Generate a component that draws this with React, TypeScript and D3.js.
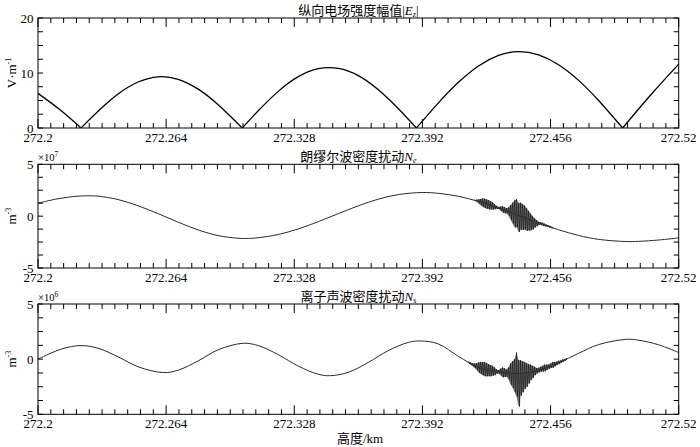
import React from 'react';
import * as d3 from 'd3';

// chart size and plot box (px)
const W = 700;
const H = 447;
const LEFT = 38;
const RIGHT = 678.7;

// height axis (km)
const xTicks = [272.2, 272.264, 272.328, 272.392, 272.456, 272.52];

// |Ez| (V/m)
const ezX = [272.2, 272.211, 272.2215, 272.23, 272.24, 272.25, 272.26, 272.27, 272.28, 272.29, 272.302,
  272.31, 272.32, 272.33, 272.34, 272.35, 272.36, 272.37, 272.38, 272.389,
  272.4, 272.41, 272.42, 272.43, 272.44, 272.45, 272.46, 272.47, 272.48, 272.492, 272.506, 272.52];
const ezV = [6.3, 3.3, 0, 3.04, 6.17, 8.36, 9.31, 8.85, 7.06, 4.22, 0,
  3.13, 6.66, 9.33, 10.78, 10.85, 9.53, 6.94, 3.5, 0,
  4.57, 8.3, 11.27, 13.19, 13.9, 13.3, 11.5, 8.66, 5.0, 0, 6.0, 11.6];

// Ne (x1e7 m^-3), smooth part
const neX = [272.2, 272.21, 272.22, 272.225, 272.23, 272.24, 272.25, 272.26, 272.27, 272.28, 272.29, 272.3, 272.305,
  272.31, 272.32, 272.33, 272.34, 272.35, 272.36, 272.37, 272.38, 272.392, 272.4, 272.41, 272.42, 272.43, 272.44,
  272.45, 272.46, 272.47, 272.48, 272.494, 272.5, 272.51, 272.52];
const neV = [1.25, 1.68, 1.93, 1.96, 1.93, 1.6, 1.0, 0.24, -0.58, -1.33, -1.88, -2.13, -2.15,
  -2.08, -1.77, -1.23, -0.53, 0.24, 1.0, 1.64, 2.08, 2.28, 2.2, 1.91, 1.42, 0.79, 0.07,
  -0.65, -1.31, -1.86, -2.24, -2.45, -2.43, -2.3, -2.1];

// Ne burst: [height, upper, lower]
const neBurst: [number, number, number][] = [
  [272.418, 1.58, 1.48], [272.419, 1.58, 1.38], [272.42, 1.62, 1.22], [272.421, 1.66, 1.06],
  [272.422, 1.7, 0.9], [272.423, 1.69, 0.79], [272.424, 1.62, 0.72], [272.425, 1.56, 0.66],
  [272.426, 1.45, 0.65], [272.427, 1.33, 0.63], [272.428, 1.17, 0.67], [272.429, 1.0, 0.7],
  [272.43, 0.89, 0.69], [272.431, 0.92, 0.52], [272.432, 0.95, 0.35], [272.433, 0.88, 0.28],
  [272.434, 0.76, 0.26], [272.435, 0.84, 0.04], [272.436, 1.06, -0.34], [272.437, 1.29, -0.71],
  [272.438, 1.52, -1.08], [272.439, 1.64, -1.06], [272.44, 1.27, -1.53], [272.441, 1.3, -1.3],
  [272.442, 1.18, -1.32], [272.443, 1.01, -1.29], [272.444, 0.79, -1.41], [272.445, 0.51, -1.39],
  [272.446, 0.24, -1.36], [272.447, 0.02, -1.28], [272.448, -0.2, -1.1], [272.449, -0.37, -0.97],
  [272.45, -0.55, -0.85], [272.451, -0.6, -0.84], [272.452, -0.63, -0.93], [272.453, -0.73, -0.97],
  [272.454, -0.82, -1.02], [272.455, -0.88, -1.08], [272.456, -0.97, -1.13], [272.457, -1.06, -1.18],
];

// Ns (x1e6 m^-3), smooth part
const nsX = [272.2, 272.205, 272.21, 272.215, 272.222, 272.23, 272.24, 272.25, 272.2626, 272.27, 272.28, 272.29,
  272.3025, 272.31, 272.32, 272.33, 272.34, 272.346, 272.355, 272.365, 272.375, 272.385, 272.391, 272.4,
  272.41, 272.42, 272.43, 272.44, 272.45, 272.46, 272.47, 272.48, 272.494, 272.5, 272.51, 272.52];
const nsV = [0, 0.43, 0.81, 1.08, 1.23, 0.99, 0.21, -0.69, -1.22, -1.0, -0.16, 0.85,
  1.44, 1.23, 0.41, -0.63, -1.37, -1.5, -1.19, -0.29, 0.78, 1.52, 1.65, 1.38,
  0.25, -0.75, -1.15, -1.3, -1.02, -0.34, 0.53, 1.32, 1.8, 1.72, 1.3, 0.6];

// Ns burst: [height, upper, lower]
const nsBurst: [number, number, number][] = [
  [272.415, -0.2, -0.4], [272.416, -0.3, -0.5], [272.417, -0.35, -0.65], [272.418, -0.4, -0.8],
  [272.419, -0.38, -0.98], [272.42, -0.3, -1.2], [272.421, -0.25, -1.35], [272.422, -0.25, -1.45],
  [272.423, -0.25, -1.55], [272.424, -0.35, -1.55], [272.425, -0.45, -1.55], [272.426, -0.53, -1.55],
  [272.427, -0.6, -1.5], [272.428, -0.75, -1.45], [272.429, -0.92, -1.32], [272.43, -1.0, -1.3],
  [272.431, -0.87, -1.47], [272.432, -0.75, -1.65], [272.433, -0.82, -1.62], [272.434, -0.94, -1.6],
  [272.435, -0.75, -1.85], [272.436, -0.4, -2.3], [272.437, -0.2, -2.6], [272.438, 0.0, -3.0],
  [272.439, 0.6, -3.4], [272.44, -0.1, -4.3], [272.441, -0.1, -3.3], [272.442, -0.2, -3.0],
  [272.443, -0.25, -2.7], [272.444, -0.35, -2.5], [272.445, -0.45, -2.2], [272.446, -0.5, -1.9],
  [272.447, -0.6, -1.7], [272.448, -0.7, -1.45], [272.449, -0.8, -1.3], [272.45, -0.78, -1.2],
  [272.451, -0.7, -1.14], [272.452, -0.6, -1.12], [272.453, -0.5, -1.1], [272.454, -0.5, -0.98],
  [272.455, -0.48, -0.88], [272.456, -0.4, -0.8], [272.457, -0.27, -0.77], [272.458, -0.25, -0.65],
  [272.459, -0.23, -0.53], [272.46, -0.15, -0.45], [272.461, -0.12, -0.32], [272.462, -0.04, -0.24],
  [272.463, 0.02, -0.14], [272.464, 0.08, -0.04],
];

const FONT = "'Liberation Serif', 'Times New Roman', 'Noto Sans CJK SC', serif";

const x = d3.scaleLinear().domain([272.2, 272.52]).range([LEFT, RIGHT]);
const xMinor = d3.range(51).map(i => 272.2 + i * 0.0064);

type PanelDef = {
  top: number;
  bottom: number;
  domain: [number, number];
  yMajor: number[];
  yStep: number;
  title: React.ReactNode;
  unit: React.ReactNode;
  exponent?: string;
  draw: (y: d3.ScaleLinear<number, number>) => React.ReactNode;
};

const smoothLine = (y: d3.ScaleLinear<number, number>) =>
  d3.line<[number, number]>().x(d => x(d[0])).y(d => y(d[1])).curve(d3.curveCatmullRom.alpha(0.5));

// zigzag through the burst rows: top at each row, bottom half-way to the next one
const burstPath = (rows: [number, number, number][], y: d3.ScaleLinear<number, number>) => {
  const pts: [number, number][] = [];
  rows.forEach((r, i) => {
    pts.push([x(r[0]), y(r[1])]);
    const nx = i < rows.length - 1 ? (r[0] + rows[i + 1][0]) / 2 : r[0];
    pts.push([x(nx), y(r[2])]);
  });
  return d3.line()(pts) || '';
};

const burstArea = (rows: [number, number, number][], y: d3.ScaleLinear<number, number>) =>
  d3.area<[number, number, number]>()
    .x(d => x(d[0]))
    .y0(d => y(d[2]))
    .y1(d => y(d[1]))
    .curve(d3.curveLinear)(rows) || '';

const drawEz = (y: d3.ScaleLinear<number, number>) => {
  const arches: [number, number][][] = [];
  let cur: [number, number][] = [];
  ezX.forEach((xv, i) => {
    cur.push([xv, ezV[i]]);
    if (ezV[i] === 0 && cur.length > 1) {
      arches.push(cur);
      cur = [[xv, 0]];
    }
  });
  if (cur.length > 1) arches.push(cur);
  const line = d3.line<[number, number]>().x(d => x(d[0])).y(d => y(d[1])).curve(d3.curveNatural);
  return arches.map((a, i) => (
    <path key={i} d={line(a) || ''} fill="none" stroke="#000" strokeWidth={1.3} />
  ));
};

const drawDensity = (xs: number[], vs: number[], burst: [number, number, number][]) =>
  (y: d3.ScaleLinear<number, number>) => (
    <g>
      <path d={smoothLine(y)(xs.map((xv, i) => [xv, vs[i]] as [number, number])) || ''}
        fill="none" stroke="#2b2b2b" strokeWidth={1} />
      <path d={burstArea(burst, y)} fill="#4a4a4a" fillOpacity={0.75} stroke="none" />
      <path d={burstPath(burst, y)} fill="none" stroke="#222" strokeWidth={0.8} />
    </g>
  );

const panels: PanelDef[] = [
  {
    top: 18, bottom: 128, domain: [0, 20], yMajor: [0, 10, 20], yStep: 2.5,
    title: <>纵向电场强度幅值|<tspan fontStyle="italic">E</tspan><tspan fontSize={8} dy={2} fontStyle="italic">z</tspan><tspan dy={-2}>|</tspan></>,
    unit: <>V·m<tspan fontSize={8} dy={-5}>-1</tspan></>,
    draw: drawEz,
  },
  {
    top: 164.3, bottom: 268, domain: [-5, 5], yMajor: [-5, 0, 5], yStep: 1.25,
    title: <>朗缪尔波密度扰动<tspan fontStyle="italic">N</tspan><tspan fontSize={8} dy={2} fontStyle="italic">e</tspan></>,
    unit: <>m<tspan fontSize={8} dy={-5}>-3</tspan></>,
    exponent: '7',
    draw: drawDensity(neX, neV, neBurst),
  },
  {
    top: 304, bottom: 414.3, domain: [-5, 5], yMajor: [-5, 0, 5], yStep: 1.25,
    title: <>离子声波密度扰动<tspan fontStyle="italic">N</tspan><tspan fontSize={8} dy={2}>s</tspan></>,
    unit: <>m<tspan fontSize={8} dy={-5}>-3</tspan></>,
    exponent: '6',
    draw: drawDensity(nsX, nsV, nsBurst),
  },
];

function Panel({ p, idx }: { p: PanelDef; idx: number }) {
  const y = d3.scaleLinear().domain(p.domain).range([p.bottom, p.top]);
  const yMinor = d3.range(p.domain[0], p.domain[1] + 1e-9, p.yStep);
  const mid = (p.top + p.bottom) / 2;
  return (
    <g>
      <defs>
        <clipPath id={`clip${idx}`}>
          <rect x={LEFT} y={p.top} width={RIGHT - LEFT} height={p.bottom - p.top} />
        </clipPath>
      </defs>
      <g clipPath={`url(#clip${idx})`}>{p.draw(y)}</g>
      <rect x={LEFT} y={p.top} width={RIGHT - LEFT} height={p.bottom - p.top}
        fill="none" stroke="#000" strokeWidth={1} />
      {xMinor.map((t, i) => {
        const len = i % 10 === 0 ? 9 : 5;
        return (
          <g key={i} stroke="#000" strokeWidth={1}>
            <line x1={x(t)} x2={x(t)} y1={p.bottom} y2={p.bottom - len} />
            <line x1={x(t)} x2={x(t)} y1={p.top} y2={p.top + len} />
          </g>
        );
      })}
      {yMinor.map((t, i) => (
        <g key={i} stroke="#000" strokeWidth={1}>
          <line x1={LEFT} x2={LEFT + 5} y1={y(t)} y2={y(t)} />
          <line x1={RIGHT} x2={RIGHT - 5} y1={y(t)} y2={y(t)} />
        </g>
      ))}
      {p.yMajor.map(t => (
        <text key={t} x={LEFT - 4.5} y={y(t)} textAnchor="end" dominantBaseline="central" fontSize={13}>
          {String(t)}
        </text>
      ))}
      {xTicks.map(t => (
        <text key={t} x={x(t)} y={p.bottom + 14} textAnchor="middle" fontSize={13}>{String(t)}</text>
      ))}
      <text x={(LEFT + RIGHT) / 2} y={p.top - 3.5} textAnchor="middle" fontSize={13}>{p.title}</text>
      <text transform={`translate(16,${mid}) rotate(-90)`} textAnchor="middle" fontSize={13}>{p.unit}</text>
      {p.exponent && (
        <text x={LEFT} y={p.top - 3.5} fontSize={10.5}>×10<tspan fontSize={7.5} dy={-4}>{p.exponent}</tspan></text>
      )}
    </g>
  );
}

export default function App() {
  return (
    <svg width={W} height={H} viewBox={`0 0 ${W} ${H}`}
      style={{ position: 'absolute', left: 0, top: 0, background: '#fff' }}
      fontFamily={FONT} fill="#000">
      {panels.map((p, i) => <Panel key={i} p={p} idx={i} />)}
      <text x={360} y={443} textAnchor="middle" fontSize={13}>高度/km</text>
    </svg>
  );
}
